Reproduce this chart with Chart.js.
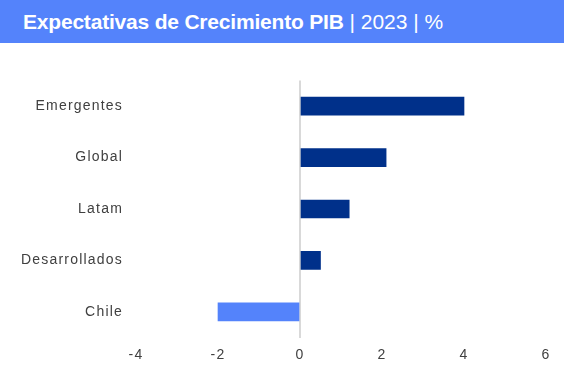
<!DOCTYPE html>
<html lang="es">
<head>
<meta charset="UTF-8" />
<title>Expectativas de Crecimiento PIB</title>
<style>
  body { margin: 0; background: #fff; font-family: "Liberation Sans", Arial, sans-serif; }
  .header {
    position: absolute; left: 0; top: 0; width: 564px; height: 43px;
    background: #5483fb; color: #fff; font-size: 21px; line-height: 43px;
    padding-left: 23px; box-sizing: border-box; white-space: nowrap;
  }
  .header b { font-weight: bold; letter-spacing: -0.2px; }
  .chart-box { position: absolute; left: 0; top: 43px; width: 564px; height: 333px; }
</style>
</head>
<body>
  <div class="header"><b>Expectativas de Crecimiento PIB</b> | 2023 | %</div>
  <div class="chart-box"><canvas id="pibChart"></canvas></div>

<script src="https://cdn.jsdelivr.net/npm/chart.js@4.4.0/dist/chart.umd.min.js"></script>
<script>
  const categories = ['Emergentes', 'Global', 'Latam', 'Desarrollados', 'Chile'];
  const growth = [4.0, 2.1, 1.2, 0.5, -2.0];
  const barColors = ['#00308a', '#00308a', '#00308a', '#00308a', '#5483fb'];
  const xTicks = [-4, -2, 0, 2, 4, 6];

  // the source renders its labels a bit spaced out
  const spacedText = {
    id: 'spacedText',
    beforeDraw: (chart) => { chart.ctx.letterSpacing = '1.2px'; }
  };

  new Chart(document.getElementById('pibChart'), {
    type: 'bar',
    data: {
      labels: categories,
      datasets: [{
        data: growth,
        backgroundColor: barColors,
        borderWidth: 0,
        barThickness: 18
      }]
    },
    options: {
      indexAxis: 'y',
      responsive: true,
      maintainAspectRatio: false,
      animation: false,
      layout: { padding: { top: 37.5, right: 18, left: 0, bottom: 0 } },
      plugins: { legend: { display: false }, tooltip: { enabled: false } },
      scales: {
        x: {
          min: xTicks[0],
          max: xTicks[xTicks.length - 1],
          afterBuildTicks: (scale) => { scale.ticks = xTicks.map(v => ({ value: v })); },
          afterFit: (scale) => { scale.height = 38.5; },
          border: { display: false },
          grid: {
            drawTicks: false,
            lineWidth: 2,
            color: (ctx) => (ctx.tick && ctx.tick.value === 0 ? '#d9d9d9' : 'rgba(0,0,0,0)')
          },
          ticks: {
            padding: 9.5,
            color: '#404040',
            font: { family: '"Liberation Sans", Arial, sans-serif', size: 14 }
          }
        },
        y: {
          afterFit: (scale) => { scale.width = 136; },
          border: { display: false },
          grid: { display: false, drawTicks: false },
          ticks: {
            padding: 13,
            color: '#404040',
            font: { family: '"Liberation Sans", Arial, sans-serif', size: 14 }
          }
        }
      }
    },
    plugins: [spacedText]
  });
</script>
</body>
</html>
